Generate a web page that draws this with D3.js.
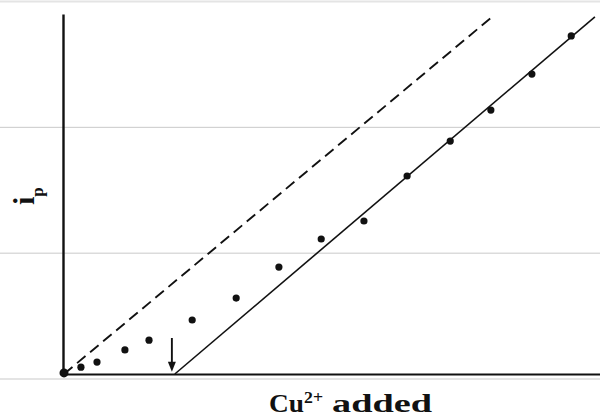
<!DOCTYPE html>
<html>
<head>
<meta charset="utf-8">
<script src="https://cdn.jsdelivr.net/npm/d3@7"></script>
<style>
  html, body { margin: 0; padding: 0; background: #fff; }
  svg { display: block; }
</style>
</head>
<body>
<svg id="chart" width="600" height="417"></svg>
<script>
// ---- data (arbitrary units) ----
const cuAdded = [0, 0.4, 0.78, 1.44, 2.01, 3.03, 4.07, 5.08, 6.08, 7.09, 8.11, 9.13, 10.09, 11.06, 11.99];
const ipValues = [0.03, 0.19, 0.33, 0.67, 0.94, 1.5, 2.11, 2.97, 3.75, 4.25, 5.5, 6.47, 7.33, 8.33, 9.39];
const fitX = [2.62, 12.55];        // solid line (excess Cu2+ region)
const fitY = [0, 9.92];
const theoryX = [0, 10.12];        // dashed line
const theoryY = [0, 9.92];
const endpointX = 2.55;            // arrow marking the end point
const endpointY = [1.0, 0.06];
const gridLevels = [0, 1, 2, 3];   // background rules
const xLabel = ["Cu", "2+", "added"];
const yLabel = ["i", "p"];

const svg = d3.select("#chart");
const W = 600, H = 417;

const x = d3.scaleLinear().domain([0, 12.67]).range([64, 600]);
const y = d3.scaleLinear().domain([0, 10]).range([374, 14]);
const g = d3.scaleLinear().domain([0, 3]).range([379, 1.5]);

// background rules
svg.append("g").selectAll("line").data(gridLevels).join("line")
  .attr("x1", 0).attr("x2", W)
  .attr("y1", d => g(d)).attr("y2", d => g(d))
  .attr("stroke", d => d === 3 ? "#e4e4e4" : "#c9c9c9")
  .attr("stroke-width", d => d === 3 ? 2 : 1);

// axes
const xAxis = svg.append("g").attr("transform", `translate(0,${y(0)})`)
  .call(d3.axisBottom(x).ticks(0).tickSizeOuter(0));
xAxis.select(".domain").attr("stroke", "#111").attr("stroke-width", 2.2);
const yAxis = svg.append("g").attr("transform", `translate(${x(0) - 1},0)`)
  .call(d3.axisLeft(y).ticks(0).tickSizeOuter(0));
yAxis.select(".domain").attr("stroke", "#111").attr("stroke-width", 2.4);

const line = d3.line().x(d => x(d[0])).y(d => y(d[1]));

// dashed line
svg.append("path")
  .attr("d", line(d3.zip(theoryX, theoryY)))
  .attr("fill", "none").attr("stroke", "#111")
  .attr("stroke-width", 1.9).attr("stroke-dasharray", "11,6");

// solid fit line
svg.append("path")
  .attr("d", line(d3.zip(fitX, fitY)))
  .attr("fill", "none").attr("stroke", "#111")
  .attr("stroke-width", 1.6);

// arrow
svg.append("line")
  .attr("x1", x(endpointX)).attr("x2", x(endpointX))
  .attr("y1", y(endpointY[0])).attr("y2", y(endpointY[1]) - 6)
  .attr("stroke", "#111").attr("stroke-width", 1.9);
svg.append("path")
  .attr("d", `M${x(endpointX) - 4},${y(endpointY[1]) - 10} L${x(endpointX)},${y(endpointY[1])} L${x(endpointX) + 4},${y(endpointY[1]) - 10} Z`)
  .attr("fill", "#111");

// points
svg.append("g").selectAll("circle").data(d3.zip(cuAdded, ipValues)).join("circle")
  .attr("cx", d => x(d[0])).attr("cy", d => y(d[1]))
  .attr("r", (d, i) => i === 0 ? 4.5 : 3.6)
  .attr("fill", "#111");

// x label
const xl = svg.append("g").attr("font-family", "'Liberation Serif', 'Times New Roman', serif")
  .attr("font-weight", "bold").attr("fill", "#111");
xl.append("text").attr("x", 269).attr("y", 412).attr("font-size", 25)
  .attr("textLength", 35).attr("lengthAdjust", "spacingAndGlyphs").text(xLabel[0]);
xl.append("text").attr("x", 304).attr("y", 403).attr("font-size", 17)
  .attr("textLength", 19).attr("lengthAdjust", "spacingAndGlyphs").text(xLabel[1]);
xl.append("text").attr("x", 332).attr("y", 412).attr("font-size", 25)
  .attr("textLength", 100).attr("lengthAdjust", "spacingAndGlyphs").text(xLabel[2]);

// y label
const yl = svg.append("text")
  .attr("transform", "translate(34,205) rotate(-90)")
  .attr("font-family", "'Liberation Serif', 'Times New Roman', serif")
  .attr("font-weight", "bold").attr("fill", "#111");
yl.append("tspan").attr("font-size", 30).text(yLabel[0]);
yl.append("tspan").attr("font-size", 17).attr("dy", 9).text(yLabel[1]);
</script>
</body>
</html>
